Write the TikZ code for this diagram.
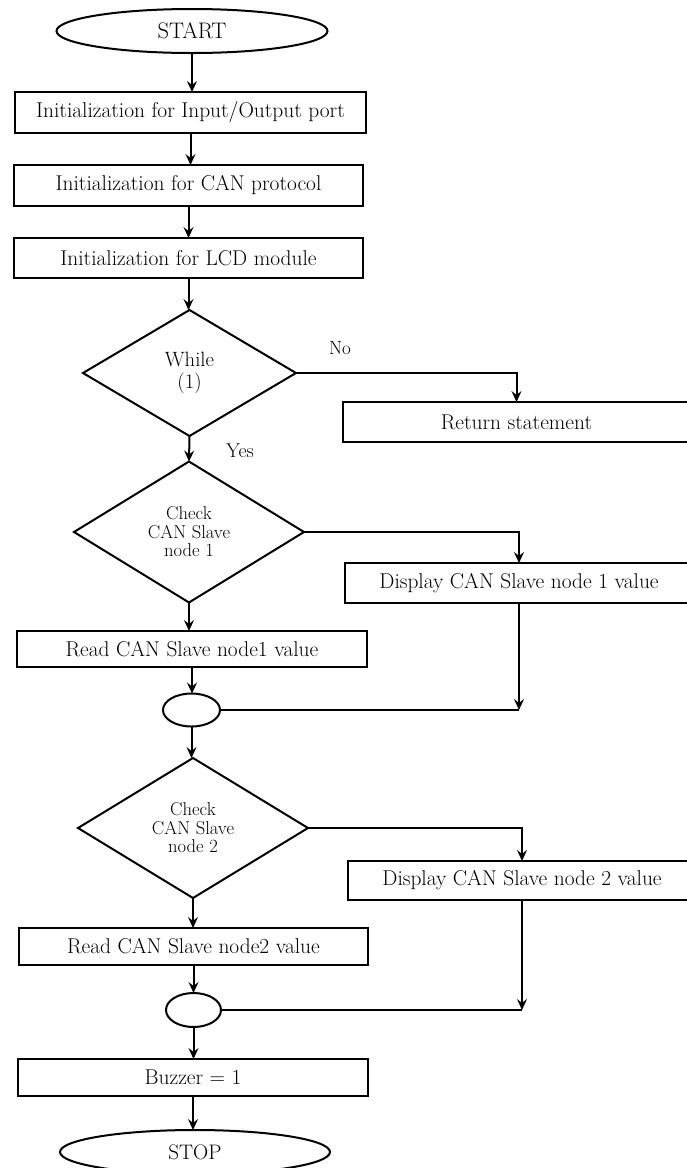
\documentclass[tikz,border=0pt]{standalone}
\usepackage{fontspec}
\usetikzlibrary{shapes.geometric,arrows.meta}
\begin{document}
\begin{tikzpicture}[x=1pt,y=-1pt,
  every node/.style={inner sep=0pt,outer sep=0pt},
  base/.style={draw=black,line width=2pt,font=\fontsize{21.4}{25}\selectfont},
  procbox/.style={base,rectangle},
  term/.style={base,ellipse},
  decision/.style={base,diamond,align=center},
  smalltxt/.style={font=\fontsize{18.6}{18.5}\selectfont},
  lbl/.style={font=\fontsize{20}{24}\selectfont},
  arr/.style={line width=2pt,-{Stealth[length=11pt,width=10pt,inset=4pt]}},
  ln/.style={line width=2pt}
]
\useasboundingbox (0,0) rectangle (686,1168);
\fill[white] (0,0) rectangle (686,1168);

\node[term,minimum width=271pt,minimum height=44pt,font=\fontsize{22.5}{26}\selectfont] (start) at (192,31) {START};
\node[procbox,minimum width=351pt,minimum height=41pt] (b1) at (190.5,112.5) {Initialization for Input/Output port};
\node[procbox,minimum width=349pt,minimum height=41pt] (b2) at (188.5,185.5) {Initialization for CAN protocol};
\node[procbox,minimum width=349pt,minimum height=40pt] (b3) at (188.5,258) {Initialization for LCD module};
\node[decision,minimum width=213pt,minimum height=126pt,font=\fontsize{20.7}{22}\selectfont] (d1) at (189.5,373) {While\\(1)};
\node[procbox,minimum width=347pt,minimum height=40pt] (ret) at (516.5,422) {Return statement};
\node[decision,minimum width=230pt,minimum height=141pt,smalltxt] (d2) at (189,532) {Check\\CAN Slave\\node 1};
\node[procbox,minimum width=348pt,minimum height=40pt] (disp1) at (519,583) {Display CAN Slave node 1 value};
\node[procbox,minimum width=350pt,minimum height=36pt] (read1) at (192,649) {Read CAN Slave node1 value};
\node[term,minimum width=57pt,minimum height=33pt] (c1) at (191.5,710) {};
\node[decision,minimum width=230pt,minimum height=140pt,smalltxt] (d3) at (193,828) {Check\\CAN Slave\\node 2};
\node[procbox,minimum width=348pt,minimum height=39pt] (disp2) at (522,880.5) {Display CAN Slave node 2 value};
\node[procbox,minimum width=349pt,minimum height=37pt] (read2) at (193.5,946.5) {Read CAN Slave node2 value};
\node[term,minimum width=55pt,minimum height=34pt] (c2) at (193.5,1010) {};
\node[procbox,minimum width=350pt,minimum height=37pt] (buzz) at (193,1077.5) {Buzzer = 1};
\node[term,minimum width=270pt,minimum height=44pt,font=\fontsize{21}{25}\selectfont] (stop) at (195,1152) {STOP};

\node[font=\fontsize{19}{23}\selectfont] (no) at (340,348) {No};
\node[lbl] (yes) at (240,451) {Yes};

\coordinate (k1) at (disp1.south |- c1.east);
\coordinate (k2) at (disp2.south |- c2.east);

\draw[arr] (start.south) -- (start.south |- b1.north);
\draw[arr] (b1.south) -- (b1.south |- b2.north);
\draw[arr] (b2.south) -- (b2.south |- b3.north);
\draw[arr] (b3.south) -- (b3.south |- d1.north);
\draw[arr] (d1.east) -| (ret.north);
\draw[arr] (d1.south) -- (d2.north);
\draw[arr] (d2.east) -| (disp1.north);
\draw[arr] (d2.south) -- (d2.south |- read1.north);
\draw[arr] (read1.south) -- (read1.south |- c1.north);
\draw[arr] (disp1.south) -- (k1);
\draw[ln] (c1.east) -- (k1);
\draw[arr] (c1.south) -- (c1.south |- d3.north);
\draw[arr] (d3.east) -| (disp2.north);
\draw[arr] (d3.south) -- (d3.south |- read2.north);
\draw[arr] (read2.south) -- (read2.south |- c2.north);
\draw[arr] (disp2.south) -- (k2);
\draw[ln] (c2.east) -- (k2);
\draw[arr] (c2.south) -- (c2.south |- buzz.north);
\draw[arr] (buzz.south) -- (buzz.south |- stop.north);
\end{tikzpicture}
\end{document}
